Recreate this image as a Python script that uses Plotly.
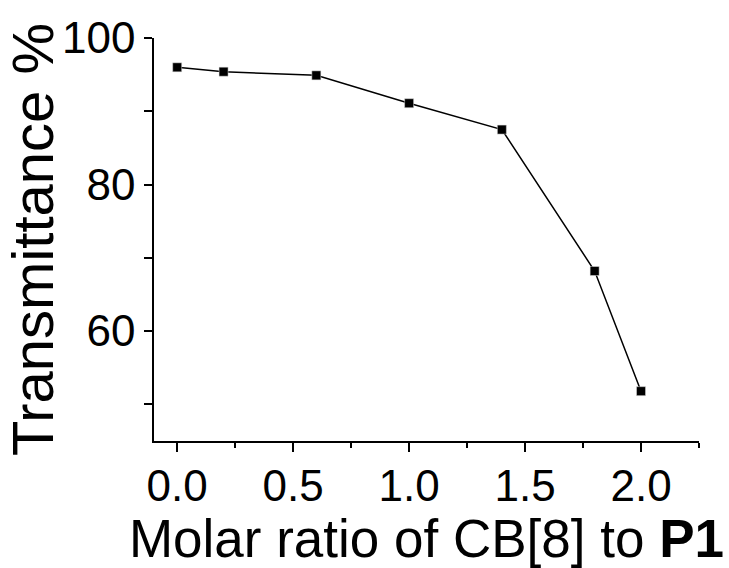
import plotly.graph_objects as go

ratio = [0.0, 0.2, 0.6, 1.0, 1.4, 1.8, 2.0]
transmittance = [96.0, 95.4, 94.9, 91.1, 87.5, 68.2, 51.8]

x_ticks = [0.0, 0.5, 1.0, 1.5, 2.0]
x_labels = ["0.0", "0.5", "1.0", "1.5", "2.0"]
y_ticks = [60, 80, 100]
y_labels = ["60", "80", "100"]

fig = go.Figure()
fig.add_trace(go.Scatter(
    x=ratio, y=transmittance, mode="lines+markers",
    line=dict(color="black", width=1.5),
    marker=dict(symbol="square", size=9, color="black",
                line=dict(color="#dddddd", width=0.5)),
    showlegend=False,
))

font_family = "Liberation Sans, Arial, sans-serif"
fig.update_layout(
    width=729, height=568,
    margin=dict(l=154, r=30, t=38, b=127),
    paper_bgcolor="white", plot_bgcolor="white",
    font=dict(family=font_family, color="black"),
)
fig.update_xaxes(
    range=[-0.1, 2.25], showgrid=False, zeroline=False,
    showline=True, linecolor="black", linewidth=1.5,
    tickmode="array", tickvals=x_ticks, ticktext=x_labels,
    ticks="outside", ticklen=9, tickwidth=1.5, tickcolor="black",
    minor=dict(dtick=0.25, tick0=0, ticks="outside", ticklen=5, tickwidth=1.5, tickcolor="black", showgrid=False),
    tickfont=dict(size=44, family=font_family),
    ticklabelstandoff=-4,
    title=dict(text="Molar ratio of CB[8] to <b>P1</b>", font=dict(size=53, family=font_family), standoff=10),
)
fig.update_yaxes(
    range=[45, 100], showgrid=False, zeroline=False,
    showline=True, linecolor="black", linewidth=1.5,
    tickmode="array", tickvals=y_ticks, ticktext=y_labels,
    ticks="outside", ticklen=8, tickwidth=1.5, tickcolor="black",
    minor=dict(dtick=10, tick0=0, ticks="outside", ticklen=8, tickwidth=1.5, tickcolor="black", showgrid=False),
    tickfont=dict(size=44, family=font_family),
    title=dict(text="Transmittance %", font=dict(size=58, family=font_family), standoff=2),
)

fig.write_html("out.html")
